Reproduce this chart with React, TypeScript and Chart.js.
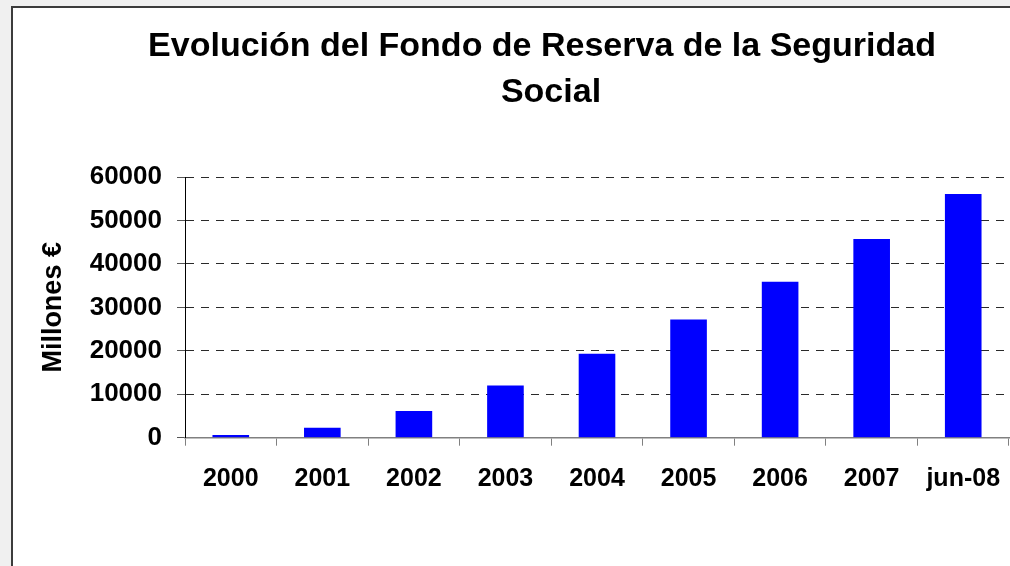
import React, { useEffect, useRef } from "react";
import { Chart, registerables } from "chart.js";

Chart.register(...registerables);

const categories: string[] = ["2000", "2001", "2002", "2003", "2004", "2005", "2006", "2007", "jun-08"];
const fondoValues: number[] = [604, 2280, 6168, 12025, 19330, 27185, 35879, 45716, 56100];
const titleLines: string[] = ["Evolución del Fondo de Reserva de la Seguridad", "Social"];
const yAxisTitle = "Millones €";
const yTicks = { min: 0, max: 60000, step: 10000 };

const FONT = "'Liberation Sans', Arial, Helvetica, sans-serif";

const titlePlugin = {
  id: "customTitle",
  afterDraw(chart: any) {
    const ctx = chart.ctx;
    ctx.save();
    ctx.font = `bold 34px ${FONT}`;
    ctx.fillStyle = "#000";
    ctx.textAlign = "center";
    ctx.textBaseline = "alphabetic";
    ctx.fillText(titleLines[0], 542, 56);
    ctx.fillText(titleLines[1], 551, 102);
    ctx.restore();
  },
};

export default function App() {
  const canvasRef = useRef<HTMLCanvasElement | null>(null);

  useEffect(() => {
    if (!canvasRef.current) return;
    const chart = new Chart(canvasRef.current, {
      type: "bar",
      data: {
        labels: categories,
        datasets: [
          {
            label: "Fondo de Reserva",
            data: fondoValues,
            backgroundColor: "#0000ff",
            borderWidth: 0,
            barPercentage: 0.4,
            categoryPercentage: 1,
          },
        ],
      },
      options: {
        animation: false,
        responsive: false,
        maintainAspectRatio: false,
        layout: { padding: { top: 177, right: 1, bottom: 0, left: 0 } },
        plugins: {
          legend: { display: false },
          title: { display: false },
          tooltip: { enabled: false },
        },
        scales: {
          x: {
            offset: true,
            grid: {
              display: true,
              drawOnChartArea: false,
              drawTicks: true,
              tickLength: 8,
              color: "#808080",
              offset: true,
            },
            border: { display: true, color: "#808080", width: 1.5 },
            ticks: {
              color: "#000",
              font: { family: FONT, size: 25, weight: "bold" },
              padding: 18,
              maxRotation: 0,
              autoSkip: false,
            },
            afterFit: (scale: any) => {
              scale.height = 128.3;
              scale.paddingLeft = 0;
              scale.paddingRight = 0;
            },
          },
          y: {
            min: yTicks.min,
            max: yTicks.max,
            grid: {
              color: (c: any) => (c.tick && c.tick.value === 0 ? "rgba(0,0,0,0)" : "#2a2a2a"),
              tickColor: "#555555",
              tickLength: 8,
              lineWidth: 1,
            },
            border: { display: true, color: "#000", width: 1, dash: [8, 7] },
            ticks: {
              stepSize: yTicks.step,
              color: "#000",
              padding: 15,
              font: { family: FONT, size: 26, weight: "bold" },
              callback: (v: any) => String(v),
            },
            title: {
              display: true,
              text: yAxisTitle,
              color: "#000",
              font: { family: FONT, size: 27, weight: "bold" },
              padding: { top: 37, bottom: 0 },
            },
            afterFit: (scale: any) => {
              scale.width = 185;
            },
          },
        },
      },
      plugins: [titlePlugin],
    });
    return () => chart.destroy();
  }, []);

  return (
    <div style={{ position: "fixed", left: 0, top: 0, width: 1010, height: 566, background: "#f0f0f0", overflow: "hidden" }}>
      <div
        style={{
          position: "absolute",
          left: 11,
          top: 6,
          width: 1100,
          height: 600,
          background: "#ffffff",
          borderLeft: "2px solid #3c3c3c",
          borderTop: "2px solid #3c3c3c",
        }}
      />
      <canvas ref={canvasRef} width={1010} height={566} style={{ position: "absolute", left: 0, top: 0, width: 1010, height: 566 }} />
    </div>
  );
}
